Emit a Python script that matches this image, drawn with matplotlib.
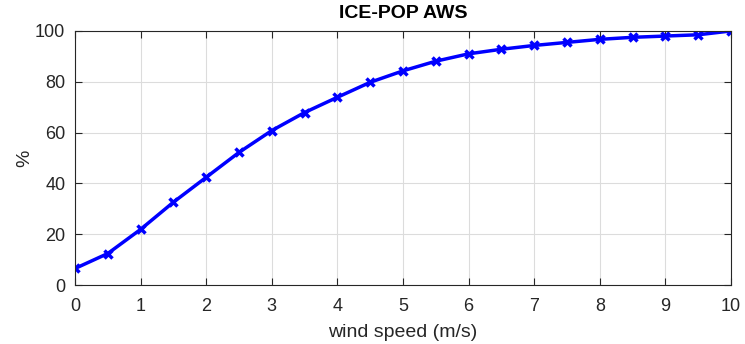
import matplotlib
matplotlib.use("Agg")
import matplotlib.pyplot as plt

plt.rcParams['font.family'] = ['Liberation Sans', 'DejaVu Sans']

windSpeed = [0, 0.5, 1, 1.5, 2, 2.5, 3, 3.5, 4, 4.5, 5, 5.5, 6, 6.5, 7, 7.5, 8, 8.5, 9, 9.5, 10]
percent = [6.5, 12.4, 21.9, 32.6, 42.4, 52.2, 60.8, 67.9, 73.9, 79.8, 84.3,
           88.1, 91.0, 92.8, 94.3, 95.5, 96.7, 97.5, 98.0, 98.5, 100.0]
xTicks = list(range(0, 11))
yTicks = [0, 20, 40, 60, 80, 100]

fig = plt.figure(figsize=(7.45, 3.44), dpi=100)
ax = fig.add_axes([0.1007, 0.1715, 0.8805, 0.7385])
ax.plot(windSpeed, percent, color=(0, 0, 1), linewidth=2.5, marker='x',
        markersize=6, markeredgewidth=2.5)
ax.set_xlim(0, 10)
ax.set_ylim(0, 100)
ax.set_xticks(xTicks)
ax.set_yticks(yTicks)
ax.grid(True, color='#dcdcdc', linewidth=0.8)
ax.set_axisbelow(True)
ax.tick_params(direction='in', length=5, labelsize=13, colors='#262626', top=True, right=True,
               labeltop=False, labelright=False)
ax.tick_params(axis='x', pad=9)
ax.tick_params(axis='y', pad=7)
for s in ax.spines.values():
    s.set_color('#262626')
    s.set_linewidth(0.8)
ax.set_title('ICE-POP AWS', fontsize=14, fontweight='bold', pad=9)
ax.set_xlabel('wind speed (m/s)', fontsize=14, color='#262626', labelpad=7)
ax.set_ylabel('%', fontsize=14, color='#262626', labelpad=1)
fig.savefig('out.png', dpi=100)
